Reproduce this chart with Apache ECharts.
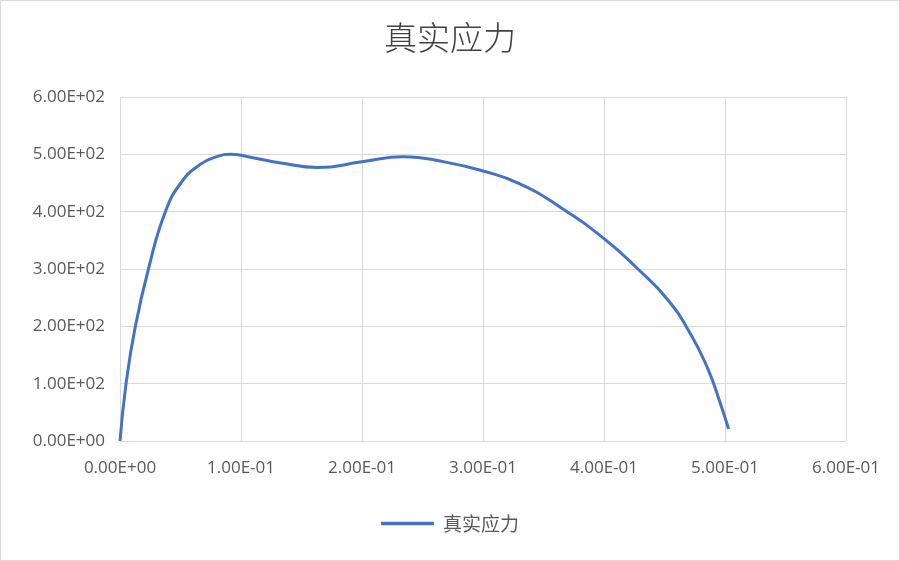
<!DOCTYPE html>
<html>
<head>
<meta charset="utf-8">
<script src="https://cdn.jsdelivr.net/npm/echarts@6/dist/echarts.min.js"></script>
<style>
html,body{margin:0;padding:0;background:#fff;}
#c{width:898px;height:559px;border:1px solid #d9d9d9;}
</style>
</head>
<body>
<div id="c"></div>
<script>
const titleText = '真实应力';
const seriesName = '真实应力';
const strain = [0, 0.005, 0.0127, 0.0235, 0.0375, 0.051, 0.066, 0.08, 0.092, 0.11, 0.133, 0.1635, 0.2, 0.234, 0.27, 0.3, 0.33, 0.363, 0.4, 0.428, 0.452, 0.472, 0.486, 0.495, 0.503];
const stress = [0, 100, 200, 300, 400, 452, 482, 496, 500, 494, 485, 477, 487, 496, 486, 471, 449, 409, 353, 300, 248, 185, 125, 73, 21];

function sci(v){
  let s = Number(v).toExponential(2);
  let [m, e] = s.split('e');
  let sign = e[0] === '-' ? '-' : '+';
  let d = e.replace(/[+-]/, '');
  if (d.length < 2) d = '0' + d;
  return m + 'E' + sign + d;
}

const chart = echarts.init(document.getElementById('c'));
chart.setOption({
  animation: false,
  backgroundColor: '#fff',
  title: {
    text: titleText, left: 'center', top: 15,
    textStyle: {fontFamily: 'Noto Sans CJK SC', fontSize: 33, fontWeight: 300, color: '#404040'}
  },
  legend: {
    bottom: 22, left: 'center',
    icon: 'path://M0,0 L60,0 L60,4 L0,4 Z',
    itemWidth: 53, itemHeight: 4, itemGap: 10,
    textStyle: {fontFamily: 'Noto Sans CJK SC', fontSize: 19, color: '#595959', padding: [0, 0, 0, 4]},
    data: [seriesName]
  },
  grid: {left: 119, right: 53, top: 96, bottom: 119},
  xAxis: {
    type: 'value', min: 0, max: 0.6, interval: 0.1,
    axisLine: {show: true, lineStyle: {color: '#d9d9d9'}},
    axisTick: {show: false},
    splitLine: {show: true, lineStyle: {color: '#d9d9d9', width: 1}},
    axisLabel: {formatter: sci, margin: 19, fontFamily: 'Open Sans', fontSize: 17, color: '#595959'}
  },
  yAxis: {
    type: 'value', min: 0, max: 600, interval: 100,
    axisLine: {show: false},
    axisTick: {show: false},
    splitLine: {show: true, lineStyle: {color: '#d9d9d9', width: 1}},
    axisLabel: {formatter: sci, margin: 15, fontFamily: 'Open Sans', fontSize: 17, color: '#595959'}
  },
  series: [{
    name: seriesName, type: 'line', smooth: 0.5, showSymbol: false,
    lineStyle: {color: '#4472C4', width: 3},
    itemStyle: {color: '#4472C4'},
    data: strain.map((x, i) => [x, stress[i]])
  }]
});
</script>
</body>
</html>
